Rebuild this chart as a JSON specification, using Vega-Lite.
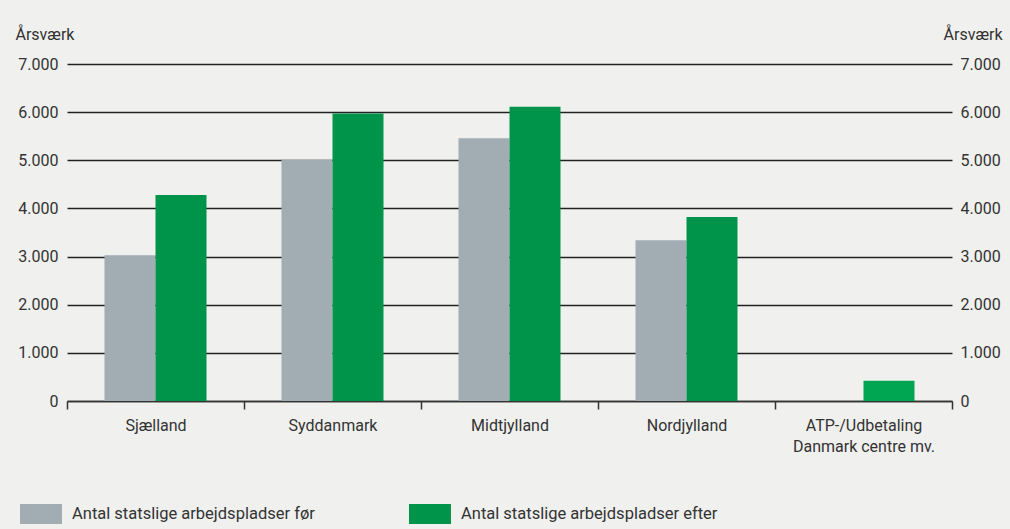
{
  "$schema": "https://vega.github.io/schema/vega-lite/v6.json",
  "width": 885,
  "height": 337,
  "autosize": {"type": "none"},
  "padding": {"left": 67, "top": 64, "right": 58, "bottom": 128},
  "background": "#f0f0ee",
  "config": {
    "view": {"stroke": null},
    "font": "Roboto",
    "axis": {"labelFont": "Roboto", "titleFont": "Roboto", "labelColor": "#333333", "titleColor": "#333333", "labelFontSize": 16, "titleFontSize": 16, "titleFontWeight": "normal"}
  },
  "data": {
    "values": [
      {"region": "Sjælland", "series": "Antal statslige arbejdspladser før", "value": 3030},
      {"region": "Sjælland", "series": "Antal statslige arbejdspladser efter", "value": 4280},
      {"region": "Syddanmark", "series": "Antal statslige arbejdspladser før", "value": 5010},
      {"region": "Syddanmark", "series": "Antal statslige arbejdspladser efter", "value": 5970},
      {"region": "Midtjylland", "series": "Antal statslige arbejdspladser før", "value": 5460},
      {"region": "Midtjylland", "series": "Antal statslige arbejdspladser efter", "value": 6110},
      {"region": "Nordjylland", "series": "Antal statslige arbejdspladser før", "value": 3340},
      {"region": "Nordjylland", "series": "Antal statslige arbejdspladser efter", "value": 3820},
      {"region": "ATP-/Udbetaling Danmark centre mv.", "series": "Antal statslige arbejdspladser før", "value": 0},
      {"region": "ATP-/Udbetaling Danmark centre mv.", "series": "Antal statslige arbejdspladser efter", "value": 420}
    ]
  },
  "encoding": {
    "x": {
      "field": "region",
      "type": "nominal",
      "sort": null,
      "scale": {"paddingInner": 0, "paddingOuter": 0},
      "axis": {
        "title": null,
        "labelAngle": 0,
        "tickBand": "extent",
        "domainColor": "#333333",
        "domainWidth": 1.5,
        "tickColor": "#333333",
        "tickWidth": 1.5,
        "tickSize": 8,
        "labelPadding": 8,
        "labelLineHeight": 21,
        "labelLimit": 300,
        "labelExpr": "indexof(datum.label, 'ATP') >= 0 ? ['ATP-/Udbetaling', 'Danmark centre mv.'] : datum.label"
      }
    },
    "xOffset": {
      "field": "series",
      "type": "nominal",
      "sort": ["Antal statslige arbejdspladser før", "Antal statslige arbejdspladser efter"],
      "scale": {"paddingInner": 0, "paddingOuter": 0.735}
    }
  },
  "layer": [
    {
      "mark": {"type": "bar"},
      "encoding": {
        "y": {
          "field": "value",
          "type": "quantitative",
          "scale": {"domain": [0, 7000]},
          "axis": {
            "orient": "left",
            "values": [0, 1000, 2000, 3000, 4000, 5000, 6000, 7000],
            "domain": false,
            "ticks": false,
            "tickSize": 0,
            "labelPadding": 9,
            "grid": true,
            "gridColor": "#222222",
            "gridWidth": 1.4,
            "labelExpr": "replace(format(datum.value, ','), ',', '.')",
            "title": "Årsværk",
            "titleAngle": 0,
            "titleAlign": "left",
            "titleBaseline": "alphabetic",
            "titleX": -52,
            "titleY": -25
          }
        },
        "color": {
          "condition": {"test": "indexof(datum.region, 'ATP') >= 0 && datum.series == 'Antal statslige arbejdspladser efter'", "value": "#00a651"},
          "field": "series",
          "type": "nominal",
          "sort": ["Antal statslige arbejdspladser før", "Antal statslige arbejdspladser efter"],
          "scale": {"domain": ["Antal statslige arbejdspladser før", "Antal statslige arbejdspladser efter"], "range": ["#a2adb3", "#00934a"]},
          "legend": {
            "title": null,
            "orient": "none",
            "legendX": -47,
            "legendY": 429,
            "direction": "horizontal",
            "padding": 0,
            "symbolType": "M-1,-0.476H1V0.476H-1Z",
            "symbolSize": 1764,
            "symbolStrokeWidth": 0,
            "symbolOpacity": 1,
            "labelFont": "Roboto",
            "labelFontSize": 16.5,
            "labelColor": "#333333",
            "labelOffset": 10,
            "labelLimit": 400,
            "columnPadding": 94
          }
        }
      }
    },
    {
      "mark": {"type": "bar", "opacity": 0},
      "encoding": {
        "y": {
          "field": "value",
          "type": "quantitative",
          "scale": {"domain": [0, 7000]},
          "axis": {
            "orient": "right",
            "values": [0, 1000, 2000, 3000, 4000, 5000, 6000, 7000],
            "domain": false,
            "ticks": false,
            "tickSize": 0,
            "labelPadding": 8,
            "grid": false,
            "labelExpr": "replace(format(datum.value, ','), ',', '.')",
            "title": "Årsværk",
            "titleAngle": 0,
            "titleAlign": "right",
            "titleBaseline": "alphabetic",
            "titleX": 50,
            "titleY": -25
          }
        }
      }
    }
  ],
  "resolve": {"axis": {"y": "independent"}}
}
